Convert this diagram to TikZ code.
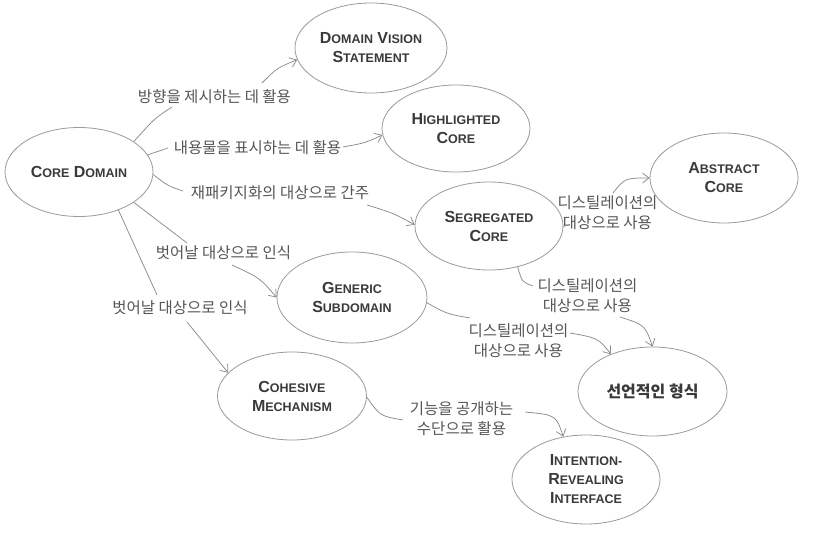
\documentclass[tikz,border=0pt]{standalone}
\usepackage{fontspec}
\setmainfont{Liberation Sans}
\newfontfamily\kr{Noto Sans CJK KR}
\usetikzlibrary{shapes.geometric,arrows.meta,calc}
\definecolor{edgegray}{HTML}{8C8C8C}
\definecolor{ringgray}{HTML}{9A9A9A}
\definecolor{titlegray}{HTML}{3A3A3A}
\definecolor{labelgray}{HTML}{555555}
\newcommand{\SCw}[2]{{\fontsize{16}{19}\selectfont #1}{\fontsize{12.5}{19}\selectfont #2}}
\begin{document}
\begin{tikzpicture}[x=1pt,y=-1pt,
  concept/.style={ellipse, draw=ringgray, line width=0.8pt, inner sep=0pt,
    minimum width=148pt, minimum height=89pt, align=center,
    font=\bfseries\fontsize{16}{19}\selectfont, text=titlegray},
  relabel/.style={inner sep=0pt, align=center,
    font=\kr\fontsize{15.5}{20}\selectfont, text=labelgray},
  link/.style={draw=edgegray, line width=0.75pt},
  linkarrow/.style={link, -{Straight Barb[length=6.5pt,width=10pt]}}]
\fill[white] (0,0) rectangle (825,537);
\useasboundingbox (0,0) rectangle (825,537);

% concepts
\node[concept] (core) at (79,172) {\SCw{C}{ORE} \SCw{D}{OMAIN}};
\node[concept, minimum width=152pt, minimum height=90pt] (dvs) at (371,48) {\SCw{D}{OMAIN} \SCw{V}{ISION}\\\SCw{S}{TATEMENT}};
\node[concept, minimum height=87pt] (hc) at (456,128.5) {\SCw{H}{IGHLIGHTED}\\\SCw{C}{ORE}};
\node[concept, minimum height=90pt] (ac) at (724,178) {\SCw{A}{BSTRACT}\\\SCw{C}{ORE}};
\node[concept, minimum height=88pt] (sc) at (489,226) {\SCw{S}{EGREGATED}\\\SCw{C}{ORE}};
\node[concept, minimum width=150pt, minimum height=91pt] (gs) at (352,297.5) {\SCw{G}{ENERIC}\\\SCw{S}{UBDOMAIN}};
\node[concept, minimum width=149pt, minimum height=88pt] (cm) at (292,396) {\SCw{C}{OHESIVE}\\\SCw{M}{ECHANISM}};
\node[concept, minimum width=149pt] (dec) at (652.5,391.5) {\kr\bfseries\fontsize{16}{19}\selectfont 선언적인 형식};
\node[concept] (irf) at (586,479.5) {\SCw{I}{NTENTION-}\\\SCw{R}{EVEALING}\\\SCw{I}{NTERFACE}};

% relation labels
\node[relabel] (l1) at (214.5,97) {방향을 제시하는 데 활용};
\node[relabel] (l2) at (257.5,148) {내용물을 표시하는 데 활용};
\node[relabel] (l3) at (280,193) {재패키지화의 대상으로 간주};
\node[relabel] (l4) at (223.5,253) {벗어날 대상으로 인식};
\node[relabel] (l5) at (180,308) {벗어날 대상으로 인식};
\node[relabel] (l6) at (607.5,213) {디스틸레이션의\\대상으로 사용};
\node[relabel] (l7) at (587.5,296) {디스틸레이션의\\대상으로 사용};
\node[relabel] (l8) at (518.5,341) {디스틸레이션의\\대상으로 사용};
\node[relabel] (l9) at (461.5,419) {기능을 공개하는\\수단으로 활용};

% connectors
\draw[link] (core.29) .. controls (155,118) .. ($(l1)+(-42.5,10)$);
\draw[linkarrow] ($(l1)+(47.5,-14)$) .. controls (277,68) .. (dvs.189);

\draw[link] (core.14) .. controls (158,151) .. ($(l2)+(-89.5,0)$);
\draw[linkarrow] ($(l2)+(85.5,-1)$) .. controls (365,143) .. (hc.185);

\draw[link] (core.-2) .. controls (168,186) .. ($(l3)+(-97,-2)$);
\draw[linkarrow] ($(l3)+(87,12)$) .. controls (393,213) .. (sc.179);

\draw[link] (core.-29) -- ($(l4)+(-36.5,-10)$);
\draw[linkarrow] ($(l4)+(8.5,12)$) .. controls (260,278) .. (gs.180);

\draw[link] (core.-44) -- ($(l5)+(-23,-13)$);
\draw[linkarrow] ($(l5)+(7,14)$) -- (cm.160);

\draw[link] (sc.0) -- ($(l6)+(-43,14)$);
\draw[linkarrow] ($(l6)+(5.5,-20)$) .. controls (625,178) .. (ac.180);

\draw[link] (sc.-55) .. controls (522,282) .. ($(l7)+(-54.5,-10)$);
\draw[linkarrow] ($(l7)+(32.5,21)$) .. controls (645,325) .. (dec.90);

\draw[link] (gs.-4) .. controls (447,314) .. ($(l8)+(-48.5,-23)$);
\draw[linkarrow] ($(l8)+(51.5,-8)$) .. controls (598,338) .. (dec.138);

\draw[link] (cm.-1) .. controls (380,416) .. ($(l9)+(-58.5,1)$);
\draw[linkarrow] ($(l9)+(63.5,-7)$) .. controls (556,415) .. (irf.118);
\end{tikzpicture}
\end{document}
